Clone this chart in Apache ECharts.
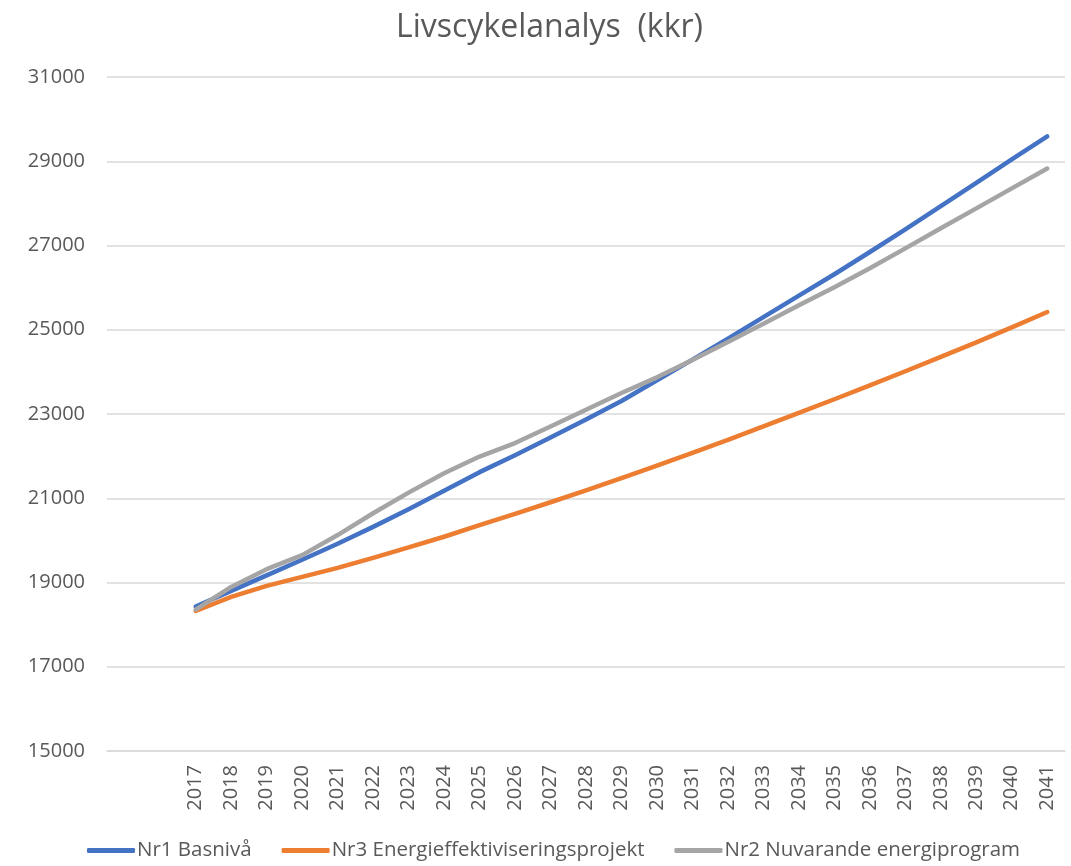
<!DOCTYPE html>
<html>
<head>
<meta charset="utf-8">
<script src="https://cdn.jsdelivr.net/npm/echarts@6/dist/echarts.min.js"></script>
<style>
html,body{margin:0;padding:0;background:#fff;}
#chart{width:1071px;height:866px;}
</style>
</head>
<body>
<div id="chart"></div>
<script>
const categories = ['', '', '2017','2018','2019','2020','2021','2022','2023','2024','2025','2026','2027','2028','2029','2030','2031','2032','2033','2034','2035','2036','2037','2038','2039','2040','2041'];
const nr1Basniva = [null, null, 18430,18800,19170,19540,19920,20320,20740,21180,21620,22020,22440,22870,23310,23800,24290,24790,25300,25810,26318,26846,27384,27936,28486,29044,29588];
const nr3Energi = [null, null, 18324,18657,18919,19133,19348,19586,19833,20086,20364,20631,20905,21186,21476,21774,22079,22388,22705,23026,23350,23680,24015,24355,24700,25055,25420];
const nr2Nuvarande = [null, null, 18357,18895,19317,19650,20126,20643,21133,21595,21990,22310,22705,23102,23500,23870,24280,24710,25140,25580,26010,26460,26931,27409,27881,28357,28826];
const seriesNames = ['Nr1 Basnivå', 'Nr3 Energieffektiviseringsprojekt', 'Nr2 Nuvarande energiprogram'];
const titleText = 'Livscykelanalys  (kkr)';

const FONT = 'Open Sans';
const TXT = '#595959';
const chart = echarts.init(document.getElementById('chart'), null, {renderer: 'canvas'});
function mk(name, data, color) {
  return {
    name: name, type: 'line', data: data, symbol: 'none', smooth: false,
    lineStyle: {color: color, width: 4.5, cap: 'round', join: 'round'},
    itemStyle: {color: color},
    emphasis: {disabled: true}
  };
}
chart.setOption({
  animation: false,
  backgroundColor: '#fff',
  title: {
    text: titleText, left: 391, top: 7,
    textStyle: {fontFamily: FONT, fontSize: 32, fontWeight: 'normal', color: TXT}
  },
  legend: {
    bottom: 0, left: 82,
    icon: 'roundRect', itemWidth: 48, itemHeight: 5, itemGap: 30,
    textStyle: {fontFamily: FONT, fontSize: 20.5, color: TXT, padding: [0,0,0,-3]},
    data: seriesNames
  },
  grid: {left: 107, right: 6, top: 77, bottom: 115, containLabel: false},
  xAxis: {
    type: 'category', data: categories, boundaryGap: true,
    axisLine: {show: true, lineStyle: {color: '#D9D9D9', width: 1.5}},
    axisTick: {show: false},
    axisLabel: {rotate: 90, interval: 0, margin: 14, fontFamily: FONT, fontSize: 20, color: TXT}
  },
  yAxis: {
    type: 'value', min: 15000, max: 31000, interval: 2000,
    axisLine: {show: false}, axisTick: {show: false},
    splitLine: {lineStyle: {color: '#D9D9D9', width: 1.5}},
    axisLabel: {margin: 22, fontFamily: FONT, fontSize: 20, color: TXT, formatter: function (v) { return String(v); }}
  },
  series: [
    mk(seriesNames[0], nr1Basniva, '#4472C4'),
    mk(seriesNames[1], nr3Energi, '#ED7D31'),
    mk(seriesNames[2], nr2Nuvarande, '#A5A5A5')
  ]
});
</script>
</body>
</html>
